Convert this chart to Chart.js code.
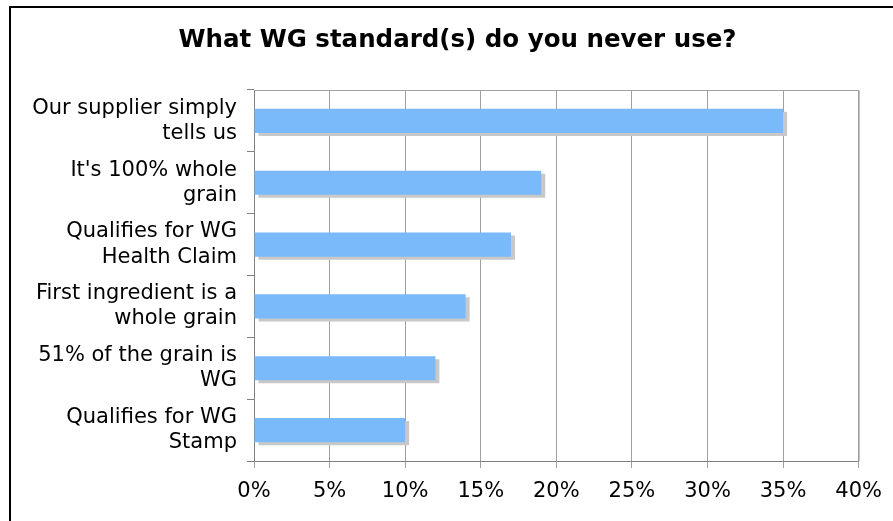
<!DOCTYPE html>
<html>
<head>
<meta charset="utf-8">
<script src="https://cdn.jsdelivr.net/npm/chart.js@4"></script>
<style>
  html, body { margin: 0; padding: 0; background: #fff; }
  #wrap { position: relative; width: 893px; height: 521px; overflow: hidden; }
  #frame { position: absolute; left: 9px; top: 6px; width: 1000px; height: 600px;
           border-left: 2px solid #000; border-top: 2px solid #000; }
  canvas { position: absolute; left: 0; top: 0; }
</style>
</head>
<body>
<div id="wrap">
  <div id="frame"></div>
  <canvas id="canvas" width="893" height="521"></canvas>
</div>
<script>
// categories (two-line labels, top to bottom)
const categories = [
    ["Our supplier simply", "tells us"],
    ["It's 100% whole", "grain"],
    ["Qualifies for WG", "Health Claim"],
    ["First ingredient is a", "whole grain"],
    ["51% of the grain is", "WG"],
    ["Qualifies for WG", "Stamp"]
]
// percent of respondents
const neverUse = [35, 19, 17, 14, 12, 10]
const xTicks = [0, 5, 10, 15, 20, 25, 30, 35, 40]

const font = "'DejaVu Sans', Verdana, sans-serif"

// gray drop shadow behind each bar
const barShadow = {
    id: "barShadow",
    beforeDatasetsDraw(chart) {
        const ctx = chart.ctx
        ctx.save()
        ctx.shadowColor = "rgb(200, 200, 200)"
        ctx.shadowOffsetX = 4
        ctx.shadowOffsetY = 3
        ctx.shadowBlur = 0
    },
    afterDatasetsDraw(chart) {
        chart.ctx.restore()
    }
}

// gray box round the plot area
const plotBorder = {
    id: "plotBorder",
    afterDraw(chart) {
        const { ctx, chartArea: a } = chart
        ctx.save()
        ctx.strokeStyle = "#a0a0a0"
        ctx.lineWidth = 1
        ctx.beginPath()
        ctx.moveTo(a.left, a.top + 0.5)
        ctx.lineTo(a.right + 0.5, a.top + 0.5)
        ctx.lineTo(a.right + 0.5, a.bottom)
        ctx.stroke()
        ctx.restore()
    }
}

// center the title inside the black frame instead of the whole canvas
const titleCenter = {
    id: "titleCenter",
    afterLayout(chart) {
        if (chart.titleBlock) {
            chart.titleBlock.left = 22
            chart.titleBlock.right = 893
        }
    }
}

const target = document.querySelector("#canvas")
const myBarChart = new Chart(target, {
    type: "bar",
    data: {
        labels: categories,
        datasets: [{
            label: "Never use",
            data: neverUse,
            backgroundColor: "rgb(122, 185, 250)",
            borderWidth: 0,
            categoryPercentage: 1,
            barPercentage: 0.39
        }]
    },
    options: {
        indexAxis: "y",
        responsive: false,
        animation: false,
        layout: { padding: { left: 0, right: 33, top: 0, bottom: 0 } },
        plugins: {
            legend: { display: false },
            tooltip: { enabled: false },
            title: {
                display: true,
                text: "What WG standard(s) do you never use?",
                color: "#000",
                font: { family: font, size: 24.5, weight: "bold", lineHeight: 1.2 },
                padding: { top: 26, bottom: 34.6 }
            }
        },
        scales: {
            x: {
                min: 0,
                max: 40,
                afterBuildTicks(scale) {
                    scale.ticks = xTicks.map(v => ({ value: v }))
                },
                afterFit(scale) { scale.height = 60 },
                ticks: {
                    color: "#000",
                    padding: 11,
                    maxRotation: 0,
                    font: { family: font, size: 21 },
                    callback: v => v + "%"
                },
                grid: { color: "#a0a0a0", tickLength: 7, lineWidth: 1 },
                border: { color: "#808080", width: 1 }
            },
            y: {
                afterFit(scale) { scale.width = 254 },
                ticks: {
                    color: "#000",
                    padding: 10,
                    font: { family: font, size: 21, lineHeight: 1.2 }
                },
                grid: { drawOnChartArea: false, offset: true, tickLength: 7, color: "#808080" },
                border: { color: "#808080", width: 1 }
            }
        }
    },
    plugins: [barShadow, plotBorder, titleCenter]
})
</script>
</body>
</html>
